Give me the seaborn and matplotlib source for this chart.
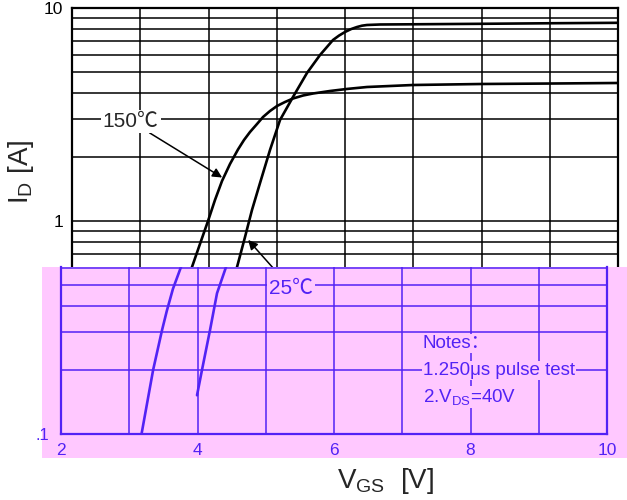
import numpy as np
import pandas as pd
import seaborn as sns
import matplotlib
matplotlib.use('Agg')
import matplotlib.pyplot as plt
from matplotlib.patches import Rectangle
from matplotlib.ticker import MultipleLocator, LogLocator, NullFormatter, FixedLocator, FixedFormatter

# values (transfer characteristic)
vgs_150 = [3.18, 3.35, 3.48, 3.55, 3.64, 3.758, 3.875, 3.993, 4.095, 4.198, 4.315, 4.432,
           4.520, 4.608, 4.711, 4.799, 4.901, 5.004, 5.121, 5.238, 5.385, 5.531, 5.780,
           6.029, 6.322, 6.996, 8.007, 9.004, 10.0]
id_150 = [0.100, 0.200, 0.307, 0.378, 0.480, 0.608, 0.780, 1.000, 1.255, 1.541, 1.852, 2.166,
          2.400, 2.617, 2.854, 3.078, 3.284, 3.467, 3.620, 3.759, 3.883, 3.968, 4.077,
          4.168, 4.257, 4.350, 4.398, 4.420, 4.446]
vgs_25 = [3.993, 4.066, 4.183, 4.286, 4.418, 4.535, 4.637, 4.755, 4.901, 5.048, 5.238,
          5.443, 5.634, 5.824, 5.912, 6.000, 6.088, 6.176, 6.249, 6.322, 6.513, 6.996,
          8.007, 9.004, 10.0]
id_25 = [0.152, 0.200, 0.307, 0.458, 0.608, 0.841, 1.126, 1.508, 2.154, 2.980, 3.822,
         4.953, 6.016, 7.076, 7.42, 7.716, 7.96, 8.143, 8.26, 8.322, 8.367, 8.386,
         8.430, 8.480, 8.520]
temps = ['150℃', '25℃']

x_ticks = [2, 4, 6, 8, 10]
y_ticks = [0.1, 1, 10]
y_tick_labels = ['.1', '1', '10']
notes = ['Notes：', '1.250μs pulse test', r'2.V$_{\mathrm{DS}}$=40V']

df = pd.concat([
    pd.DataFrame({'V': vgs_150, 'I': id_150, 'temp': temps[0]}),
    pd.DataFrame({'V': vgs_25, 'I': id_25, 'temp': temps[1]}),
])

sns.set_style('white')
plt.rcParams['font.family'] = ['Liberation Sans', 'Noto Sans CJK SC', 'DejaVu Sans']
plt.rcParams['mathtext.fontset'] = 'custom'
plt.rcParams['mathtext.rm'] = 'Liberation Sans'
plt.rcParams['mathtext.it'] = 'Liberation Sans:italic'

BLUE = '#5222f5'
PINK = '#ffc8ff'
W, H = 627, 500

fig = plt.figure(figsize=(W / 100, H / 100), dpi=100)

# main (black) chart
ax = fig.add_axes([72 / W, 1 - 434 / H, 546 / W, 426 / H])
sns.lineplot(data=df, x='V', y='I', hue='temp', palette={t: 'black' for t in temps},
             ax=ax, legend=False, lw=1.9, sort=False)
ax.set_yscale('log')
ax.set_xlim(2, 10)
ax.set_ylim(0.1, 10)


def style_axis(a, col):
    a.xaxis.set_major_locator(FixedLocator(x_ticks))
    a.xaxis.set_minor_locator(MultipleLocator(1))
    a.yaxis.set_major_locator(FixedLocator(y_ticks))
    a.yaxis.set_major_formatter(FixedFormatter(y_tick_labels))
    a.yaxis.set_minor_locator(LogLocator(base=10, subs=np.arange(2, 10)))
    a.yaxis.set_minor_formatter(NullFormatter())
    a.grid(which='both', color=col, lw=1.1)
    a.tick_params(which='both', length=0, labelsize=12.5, pad=6.5, colors=col)
    for s in a.spines.values():
        s.set_color(col)
        s.set_linewidth(1.6)


style_axis(ax, 'black')
ax.tick_params(labelbottom=False)
ax.set_xlabel(r'V$_{\mathrm{GS}}$  [V]', fontsize=20)
ax.xaxis.set_label_coords(0.575, -0.075)
ax.set_ylabel(r'I$_{\mathrm{D}}$ [A]', fontsize=20)
ax.yaxis.set_label_coords(-0.066, 0.615)

ax.annotate(temps[0], xy=(4.2, 1.6), xytext=(2.86, 2.94), ha='center', va='center',
            fontsize=15, bbox=dict(boxstyle='square,pad=0.1', fc='white', ec='none'),
            arrowprops=dict(arrowstyle='-|>', color='black', lw=1.1,
                            mutation_scale=14, shrinkA=0, shrinkB=0))
ax.annotate('', xy=(4.58, 0.815), xytext=(4.95, 0.60),
            arrowprops=dict(arrowstyle='-|>', color='black', lw=1.1,
                            mutation_scale=14, shrinkA=0, shrinkB=0))

# the pink, shifted strip over the lower part of the scan
fig.add_artist(Rectangle((42 / W, 1 - 458 / H), (W - 42) / W, (458 - 267) / H,
                         transform=fig.transFigure, fc=PINK, ec='none', zorder=1))

decade = 213
ax2 = fig.add_axes([61 / W, 1 - 434 / H, 546 / W, (434 - 267) / H])
ax2.set_zorder(2)
ax2.set_facecolor('none')
sns.lineplot(data=df, x='V', y='I', hue='temp', palette={t: BLUE for t in temps},
             ax=ax2, legend=False, lw=1.9, sort=False)
ax2.set_yscale('log')
ax2.set_xlim(2, 10)
ax2.set_ylim(0.1, 10 ** (-1 + (434 - 267) / decade))
style_axis(ax2, BLUE)
ax2.tick_params(axis='y', pad=8.5, labelsize=12)
ax2.spines['top'].set_visible(False)
ax2.set_xlabel('')
ax2.set_ylabel('')

ax2.text(5.37, 0.484, temps[1], color=BLUE, ha='center', va='center', fontsize=15,
         bbox=dict(boxstyle='square,pad=0.1', fc=PINK, ec='none'))
for line, yv in zip(notes, [0.267, 0.1995, 0.149]):
    ax2.text(7.30, yv, line, color=BLUE, ha='left', va='center', fontsize=13.5,
             bbox=dict(boxstyle='square,pad=0.05', fc=PINK, ec='none'))

fig.savefig('out.png', dpi=100)
